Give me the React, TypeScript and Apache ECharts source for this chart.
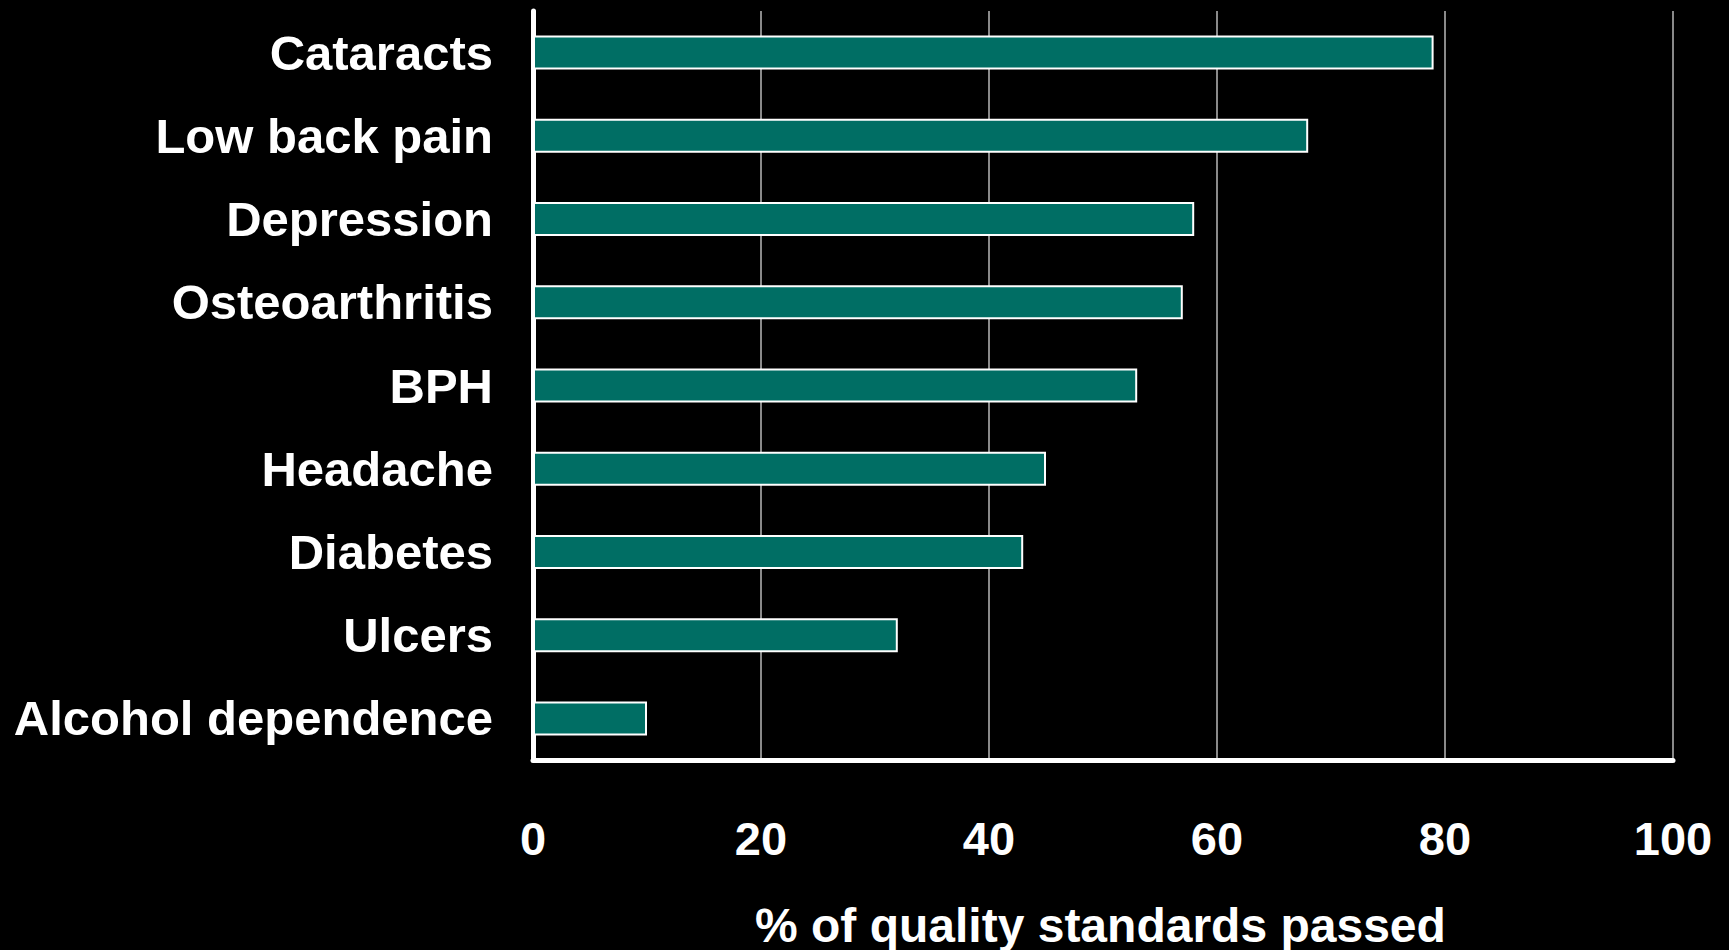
import React, { useEffect, useRef } from "react";
import * as echarts from "echarts";

const categories = [
  "Cataracts",
  "Low back pain",
  "Depression",
  "Osteoarthritis",
  "BPH",
  "Headache",
  "Diabetes",
  "Ulcers",
  "Alcohol dependence",
];
const values = [79, 68, 58, 57, 53, 45, 43, 32, 10];
const xTicks = { min: 0, max: 100, interval: 20 };
const xTitle = "% of quality standards passed";

export default function App() {
  const ref = useRef<HTMLDivElement>(null);
  useEffect(() => {
    if (!ref.current) return;
    const chart = echarts.init(ref.current, null, { renderer: "svg" });
    chart.setOption({
      animation: false,
      backgroundColor: "#000000",
      grid: { left: 533, right: 56, top: 11, bottom: 190, containLabel: false },
      xAxis: {
        type: "value",
        min: xTicks.min,
        max: xTicks.max,
        interval: xTicks.interval,
        axisLine: { show: true, lineStyle: { color: "#ffffff", width: 5 } },
        axisTick: { show: false },
        splitLine: { show: true, lineStyle: { color: "#8a8a8a", width: 2 } },
        axisLabel: {
          color: "#ffffff",
          fontFamily: "'Liberation Sans', Arial, sans-serif",
          fontWeight: "bold",
          fontSize: 47,
          margin: 55,
        },
      },
      yAxis: {
        type: "category",
        data: categories,
        inverse: true,
        axisLine: { show: true, lineStyle: { color: "#ffffff", width: 5 } },
        axisTick: { show: false },
        splitLine: { show: false },
        axisLabel: {
          color: "#ffffff",
          fontFamily: "'Liberation Sans', Arial, sans-serif",
          fontWeight: "bold",
          fontSize: 49,
          margin: 40,
        },
      },
      graphic: [
        {
          type: "text",
          x: 755,
          y: 925,
          style: {
            text: xTitle,
            fill: "#ffffff",
            font: "bold 48px 'Liberation Sans', Arial, sans-serif",
            textAlign: "left",
            textVerticalAlign: "middle",
          },
        },
      ],
      series: [
        {
          type: "bar",
          data: values,
          barWidth: 34,
          itemStyle: {
            color: "#006e64",
            borderColor: "#ffffff",
            borderWidth: 2,
          },
        },
      ],
    });
    return () => chart.dispose();
  }, []);
  return (
    <div
      ref={ref}
      style={{ position: "fixed", left: 0, top: 0, width: 1729, height: 950, background: "#000" }}
    />
  );
}
